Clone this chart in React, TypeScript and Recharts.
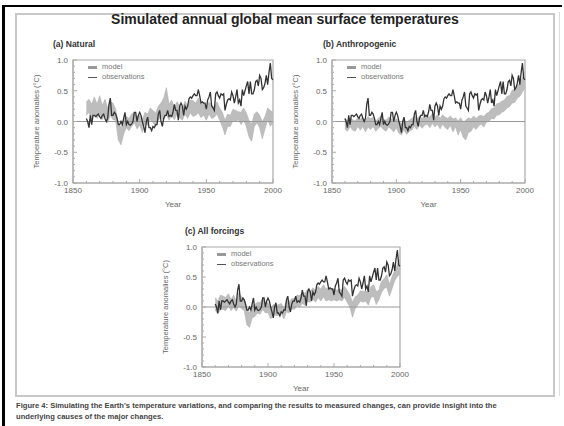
import { ComposedChart, Area, Line, XAxis, YAxis, ReferenceLine, ReferenceArea, Legend } from 'recharts';

// observed annual anomalies (°C), 1860..2000
const FIRST_YEAR = 1860;
const observations = [
  0.05, 0.0, -0.1, 0.1, -0.05, 0.1, 0.1, 0.08, 0.1, 0.12,
  0.08, 0.05, 0.1, 0.12, 0.05, 0.0, 0.05, 0.28, 0.38, 0.1,
  0.1, 0.15, 0.12, 0.05, -0.05, -0.05, 0.0, -0.05, 0.05, 0.15,
  -0.05, 0.0, -0.05, -0.06, -0.04, 0.0, 0.15, 0.15, 0.0, 0.1,
  0.15, 0.1, 0.0, -0.08, -0.18, 0.0, 0.07, -0.1, -0.1, -0.15,
  -0.08, -0.1, -0.05, -0.05, 0.12, 0.18, 0.0, -0.08, 0.05, 0.1,
  0.1, 0.18, 0.08, 0.1, 0.08, 0.15, 0.28, 0.18, 0.18, 0.02,
  0.25, 0.3, 0.25, 0.1, 0.25, 0.2, 0.25, 0.37, 0.4, 0.38,
  0.42, 0.45, 0.42, 0.42, 0.52, 0.42, 0.3, 0.32, 0.3, 0.3,
  0.2, 0.35, 0.4, 0.48, 0.25, 0.22, 0.18, 0.45, 0.48, 0.42,
  0.38, 0.45, 0.43, 0.45, 0.18, 0.28, 0.35, 0.37, 0.35, 0.48,
  0.42, 0.3, 0.4, 0.52, 0.3, 0.35, 0.25, 0.52, 0.42, 0.5,
  0.58, 0.65, 0.45, 0.65, 0.45, 0.45, 0.52, 0.65, 0.67, 0.58,
  0.75, 0.7, 0.52, 0.55, 0.62, 0.75, 0.6, 0.8, 0.95, 0.7,
  0.68,
];

// model ensemble range, every 2 years 1860..2000
const MODEL_STEP = 2;
const naturalLow = [
  0.1, 0.15, 0.02, 0.12, 0.05, 0.14, 0.03, 0.12, -0.02, 0.1,
  0.03, 0.02, -0.3, -0.38, -0.2, -0.1, -0.15, -0.08, -0.02, -0.12,
  -0.06, -0.18, -0.02, -0.06, 0.03, -0.02, -0.08, 0.02, 0.08, 0.02,
  0.12, 0.02, 0.1, 0.03, 0.12, 0.06, 0.02, 0.12, 0.05, 0.14,
  0.08, 0.1, 0.14, 0.06, 0.1, 0.02, 0.12, 0.05, 0.07, 0.12,
  0.02, -0.08, -0.22, -0.08, -0.08, 0.02, 0.0, 0.03, -0.05, 0.02,
  -0.08, -0.25, -0.32, -0.08, -0.02, -0.1, -0.28, -0.12, 0.03, -0.08,
  -0.02,
];
const naturalHigh = [
  0.32, 0.36, 0.28, 0.4, 0.28, 0.42, 0.26, 0.36, 0.22, 0.32,
  0.3, 0.2, -0.02, -0.1, 0.04, 0.08, 0.05, 0.12, 0.15, 0.08,
  0.1, 0.03, 0.15, 0.12, 0.22, 0.18, 0.14, 0.25, 0.3, 0.38,
  0.55, 0.28, 0.35, 0.22, 0.32, 0.26, 0.22, 0.33, 0.26, 0.35,
  0.34, 0.3, 0.38, 0.28, 0.3, 0.22, 0.32, 0.26, 0.24, 0.32,
  0.22, 0.15, 0.02, 0.12, 0.1, 0.2, 0.18, 0.16, 0.15, 0.22,
  0.14, 0.02, -0.04, 0.12, 0.16, 0.1, 0.0, 0.08, 0.22, 0.18,
  0.15,
];
const anthroLow = [
  -0.12, -0.16, -0.08, -0.14, -0.16, -0.08, -0.14, -0.08, -0.17, -0.09,
  -0.13, -0.08, -0.16, -0.11, -0.08, -0.13, -0.16, -0.09, -0.12, -0.17,
  -0.1, -0.19, -0.22, -0.13, -0.21, -0.16, -0.14, -0.08, -0.13, -0.06,
  -0.11, -0.06, -0.04, -0.1, -0.03, -0.09, -0.04, -0.12, -0.04, -0.1,
  -0.13, -0.06, -0.17, -0.08, -0.22, -0.13, -0.26, -0.3, -0.18, -0.16,
  -0.09, -0.13, -0.07, -0.04, -0.09, -0.01, 0.0, 0.05, 0.04, 0.1,
  0.11, 0.15, 0.17, 0.22, 0.24, 0.3, 0.31, 0.38, 0.41, 0.48,
  0.55,
];
const anthroHigh = [
  0.05, 0.02, 0.06, 0.03, 0.01, 0.06, 0.04, 0.07, 0.02, 0.08,
  0.05, 0.07, 0.01, 0.05, 0.09, 0.04, 0.02, 0.07, 0.05, 0.01,
  0.05, -0.01, -0.03, 0.03, -0.01, 0.02, 0.05, 0.09, 0.04, 0.09,
  0.05, 0.11, 0.1, 0.07, 0.13, 0.07, 0.11, 0.05, 0.11, 0.07,
  0.05, 0.09, 0.04, 0.06, 0.01, 0.06, -0.01, 0.02, 0.06, 0.04,
  0.09, 0.05, 0.09, 0.1, 0.08, 0.13, 0.15, 0.21, 0.22, 0.29,
  0.3, 0.33, 0.35, 0.41, 0.42, 0.51, 0.52, 0.59, 0.62, 0.71,
  0.82,
];
const allLow = [
  -0.05, -0.12, -0.03, -0.04, -0.06, 0.02, -0.06, -0.01, -0.07, 0.02,
  -0.03, -0.06, -0.3, -0.34, -0.18, -0.16, -0.1, -0.12, -0.04, -0.1,
  -0.09, -0.2, -0.13, -0.14, -0.14, -0.1, -0.2, -0.08, -0.1, -0.03,
  -0.04, 0.02, 0.0, 0.06, 0.03, 0.09, 0.08, 0.13, 0.08, 0.16,
  0.1, 0.17, 0.1, 0.12, 0.1, 0.12, 0.1, 0.12, 0.1, 0.16,
  0.08, 0.0, -0.17, -0.03, 0.03, 0.1, 0.08, 0.1, 0.03, 0.16,
  0.18, 0.04, 0.12, 0.24, 0.31, 0.33, 0.18, 0.31, 0.44, 0.51,
  0.55,
];
const allHigh = [
  0.16, 0.1, 0.2, 0.18, 0.16, 0.22, 0.13, 0.2, 0.1, 0.24,
  0.17, 0.13, -0.04, -0.1, 0.02, 0.04, 0.08, 0.07, 0.14, 0.08,
  0.07, -0.01, 0.04, 0.03, 0.04, 0.06, -0.02, 0.1, 0.09, 0.14,
  0.14, 0.2, 0.19, 0.24, 0.23, 0.3, 0.26, 0.32, 0.28, 0.34,
  0.3, 0.37, 0.3, 0.32, 0.28, 0.3, 0.28, 0.3, 0.28, 0.34,
  0.28, 0.2, 0.08, 0.17, 0.2, 0.27, 0.26, 0.27, 0.23, 0.34,
  0.37, 0.26, 0.28, 0.43, 0.47, 0.54, 0.38, 0.51, 0.61, 0.71,
  0.8,
];

const xTicks = [1850, 1860, 1870, 1880, 1890, 1900, 1910, 1920, 1930, 1940, 1950, 1960, 1970, 1980, 1990, 2000];
const yTicks = [-1, -0.9, -0.8, -0.7, -0.6, -0.5, -0.4, -0.3, -0.2, -0.1, 0, 0.1, 0.2, 0.3, 0.4, 0.5, 0.6, 0.7, 0.8, 0.9, 1];

const obsRows = observations.map((v, i) => ({ year: FIRST_YEAR + i, obs: v }));

const modelRows = (low: number[], high: number[]) =>
  low.map((lo, i) => ({ year: FIRST_YEAR + i * MODEL_STEP, range: [lo, high[i]] }));

const AXIS = '#aaa';
const TEXT = '#666';

const XTick = ({ x, y, payload }: any) => {
  const major = payload.value % 50 === 0;
  return (
    <g>
      <line x1={x} x2={x} y1={y} y2={y - (major ? 4 : 2)} stroke={AXIS} />
      {major && (
        <text x={x} y={y + 10} textAnchor="middle" fontSize={8} fill={TEXT}>
          {payload.value}
        </text>
      )}
    </g>
  );
};

const YTick = ({ x, y, payload }: any) => {
  const v = payload.value;
  const major = Math.abs(v * 2 - Math.round(v * 2)) < 1e-6;
  return (
    <g>
      <line x1={x} x2={x + (major ? 4 : 2)} y1={y} y2={y} stroke={AXIS} />
      {major && (
        <text x={x - 5} y={y + 3} textAnchor="end" fontSize={8} fill={TEXT}>
          {v.toFixed(1)}
        </text>
      )}
    </g>
  );
};

const YTitle = ({ viewBox }: any) => {
  const cx = viewBox.x + 6;
  const cy = viewBox.y + viewBox.height / 2;
  return (
    <text x={cx} y={cy} transform={`rotate(-90 ${cx} ${cy})`} textAnchor="middle" dominantBaseline="middle" fontSize={7.5} fill={TEXT}>
      Temperature anomalies (°C)
    </text>
  );
};

const LegendBox = () => (
  <div style={{ fontSize: 7.5, color: '#777', lineHeight: '10px', whiteSpace: 'nowrap' }}>
    <div>
      <span style={{ display: 'inline-block', width: 9, height: 3, background: '#999', verticalAlign: 'middle', marginRight: 5 }} />
      model
    </div>
    <div>
      <span style={{ display: 'inline-block', width: 9, height: 1, background: '#555', verticalAlign: 'middle', marginRight: 5 }} />
      observations
    </div>
  </div>
);

const Y_AXIS_W = 42;
const X_AXIS_H = 30;
const TOP_PAD = 6;
const RIGHT_PAD = 14;

type PanelProps = {
  title: string;
  titleX: number;
  low: number[];
  high: number[];
  left: number;
  top: number;
  plotW: number;
  plotH: number;
};

const Panel = ({ title, titleX, low, high, left, top, plotW, plotH }: PanelProps) => (
  <>
    <div style={{ position: 'absolute', left: titleX, top: top - 21, fontSize: 8.5, fontWeight: 'bold', color: '#333' }}>
      {title}
    </div>
    <div style={{ position: 'absolute', left: left - Y_AXIS_W, top: top - TOP_PAD }}>
      <ComposedChart
        width={Y_AXIS_W + plotW + RIGHT_PAD}
        height={TOP_PAD + plotH + X_AXIS_H}
        data={obsRows}
        margin={{ top: TOP_PAD, right: RIGHT_PAD, bottom: 0, left: 0 }}
      >
        <XAxis
          dataKey="year"
          type="number"
          domain={[1850, 2000]}
          ticks={xTicks}
          interval={0}
          tick={<XTick />}
          tickLine={false}
          tickSize={0}
          tickMargin={0}
          axisLine={{ stroke: AXIS }}
          height={X_AXIS_H}
          label={{ value: 'Year', position: 'insideBottom', offset: 6, fontSize: 8, fill: TEXT }}
        />
        <YAxis
          type="number"
          domain={[-1, 1]}
          ticks={yTicks}
          interval={0}
          tick={<YTick />}
          tickLine={false}
          tickSize={0}
          tickMargin={0}
          axisLine={{ stroke: AXIS }}
          width={Y_AXIS_W}
          label={<YTitle />}
        />
        <ReferenceArea x1={1850} x2={2000} y1={-1} y2={1} fill="none" stroke={AXIS} strokeWidth={1.2} />
        <Area
          data={modelRows(low, high)}
          dataKey="range"
          type="linear"
          stroke="#b0b0b0"
          strokeWidth={0.6}
          fill="#bdbdbd"
          fillOpacity={1}
          dot={false}
          activeDot={false}
          isAnimationActive={false}
        />
        <ReferenceLine y={0} stroke="#999" strokeWidth={1} />
        <Line
          dataKey="obs"
          type="linear"
          stroke="#333"
          strokeWidth={1.3}
          dot={false}
          activeDot={false}
          isAnimationActive={false}
        />
        <Legend
          layout="vertical"
          align="center"
          verticalAlign="middle"
          content={<LegendBox />}
          wrapperStyle={{ left: Y_AXIS_W + 15, top: TOP_PAD + 2, width: 'auto' }}
        />
      </ComposedChart>
    </div>
  </>
);

const CAPTION_1 =
  "Figure 4: Simulating the Earth's temperature variations, and comparing the results to measured changes, can provide insight into the";
const CAPTION_2 = 'underlying causes of the major changes.';

export default function App() {
  return (
    <div
      style={{
        position: 'absolute',
        left: 0,
        top: 0,
        width: 564,
        height: 426,
        background: '#fff',
        overflow: 'hidden',
        fontFamily: '"Liberation Sans", Arial, sans-serif',
      }}
    >
      <div style={{ position: 'absolute', left: 3, top: 5, width: 559, height: 2, background: '#000' }} />
      <div style={{ position: 'absolute', left: 2, top: 5, width: 3, height: 421, background: '#000' }} />
      <div style={{ position: 'absolute', left: 559, top: 12, width: 1, height: 384, background: '#ddd' }} />
      <div
        style={{
          position: 'absolute',
          left: 15,
          top: 13,
          width: 536,
          height: 380,
          border: '2px solid #c8c8c8',
        }}
      />
      <div
        style={{
          position: 'absolute',
          left: 15,
          top: 11,
          width: 540,
          textAlign: 'center',
          fontSize: 14,
          fontWeight: 'bold',
          color: '#222',
        }}
      >
        Simulated annual global mean surface temperatures
      </div>
      <Panel title="(a) Natural" titleX={53} low={naturalLow} high={naturalHigh} left={73} top={60} plotW={200} plotH={123} />
      <Panel title="(b) Anthropogenic" titleX={323} low={anthroLow} high={anthroHigh} left={332} top={60} plotW={193} plotH={123} />
      <Panel title="(c) All forcings" titleX={185} low={allLow} high={allHigh} left={202} top={247} plotW={198} plotH={120} />
      <div style={{ position: 'absolute', left: 16, top: 400, fontSize: 7.6, fontWeight: 'bold', color: '#444', lineHeight: '11px', whiteSpace: 'nowrap' }}>
        <div>{CAPTION_1}</div>
        <div>{CAPTION_2}</div>
      </div>
    </div>
  );
}
